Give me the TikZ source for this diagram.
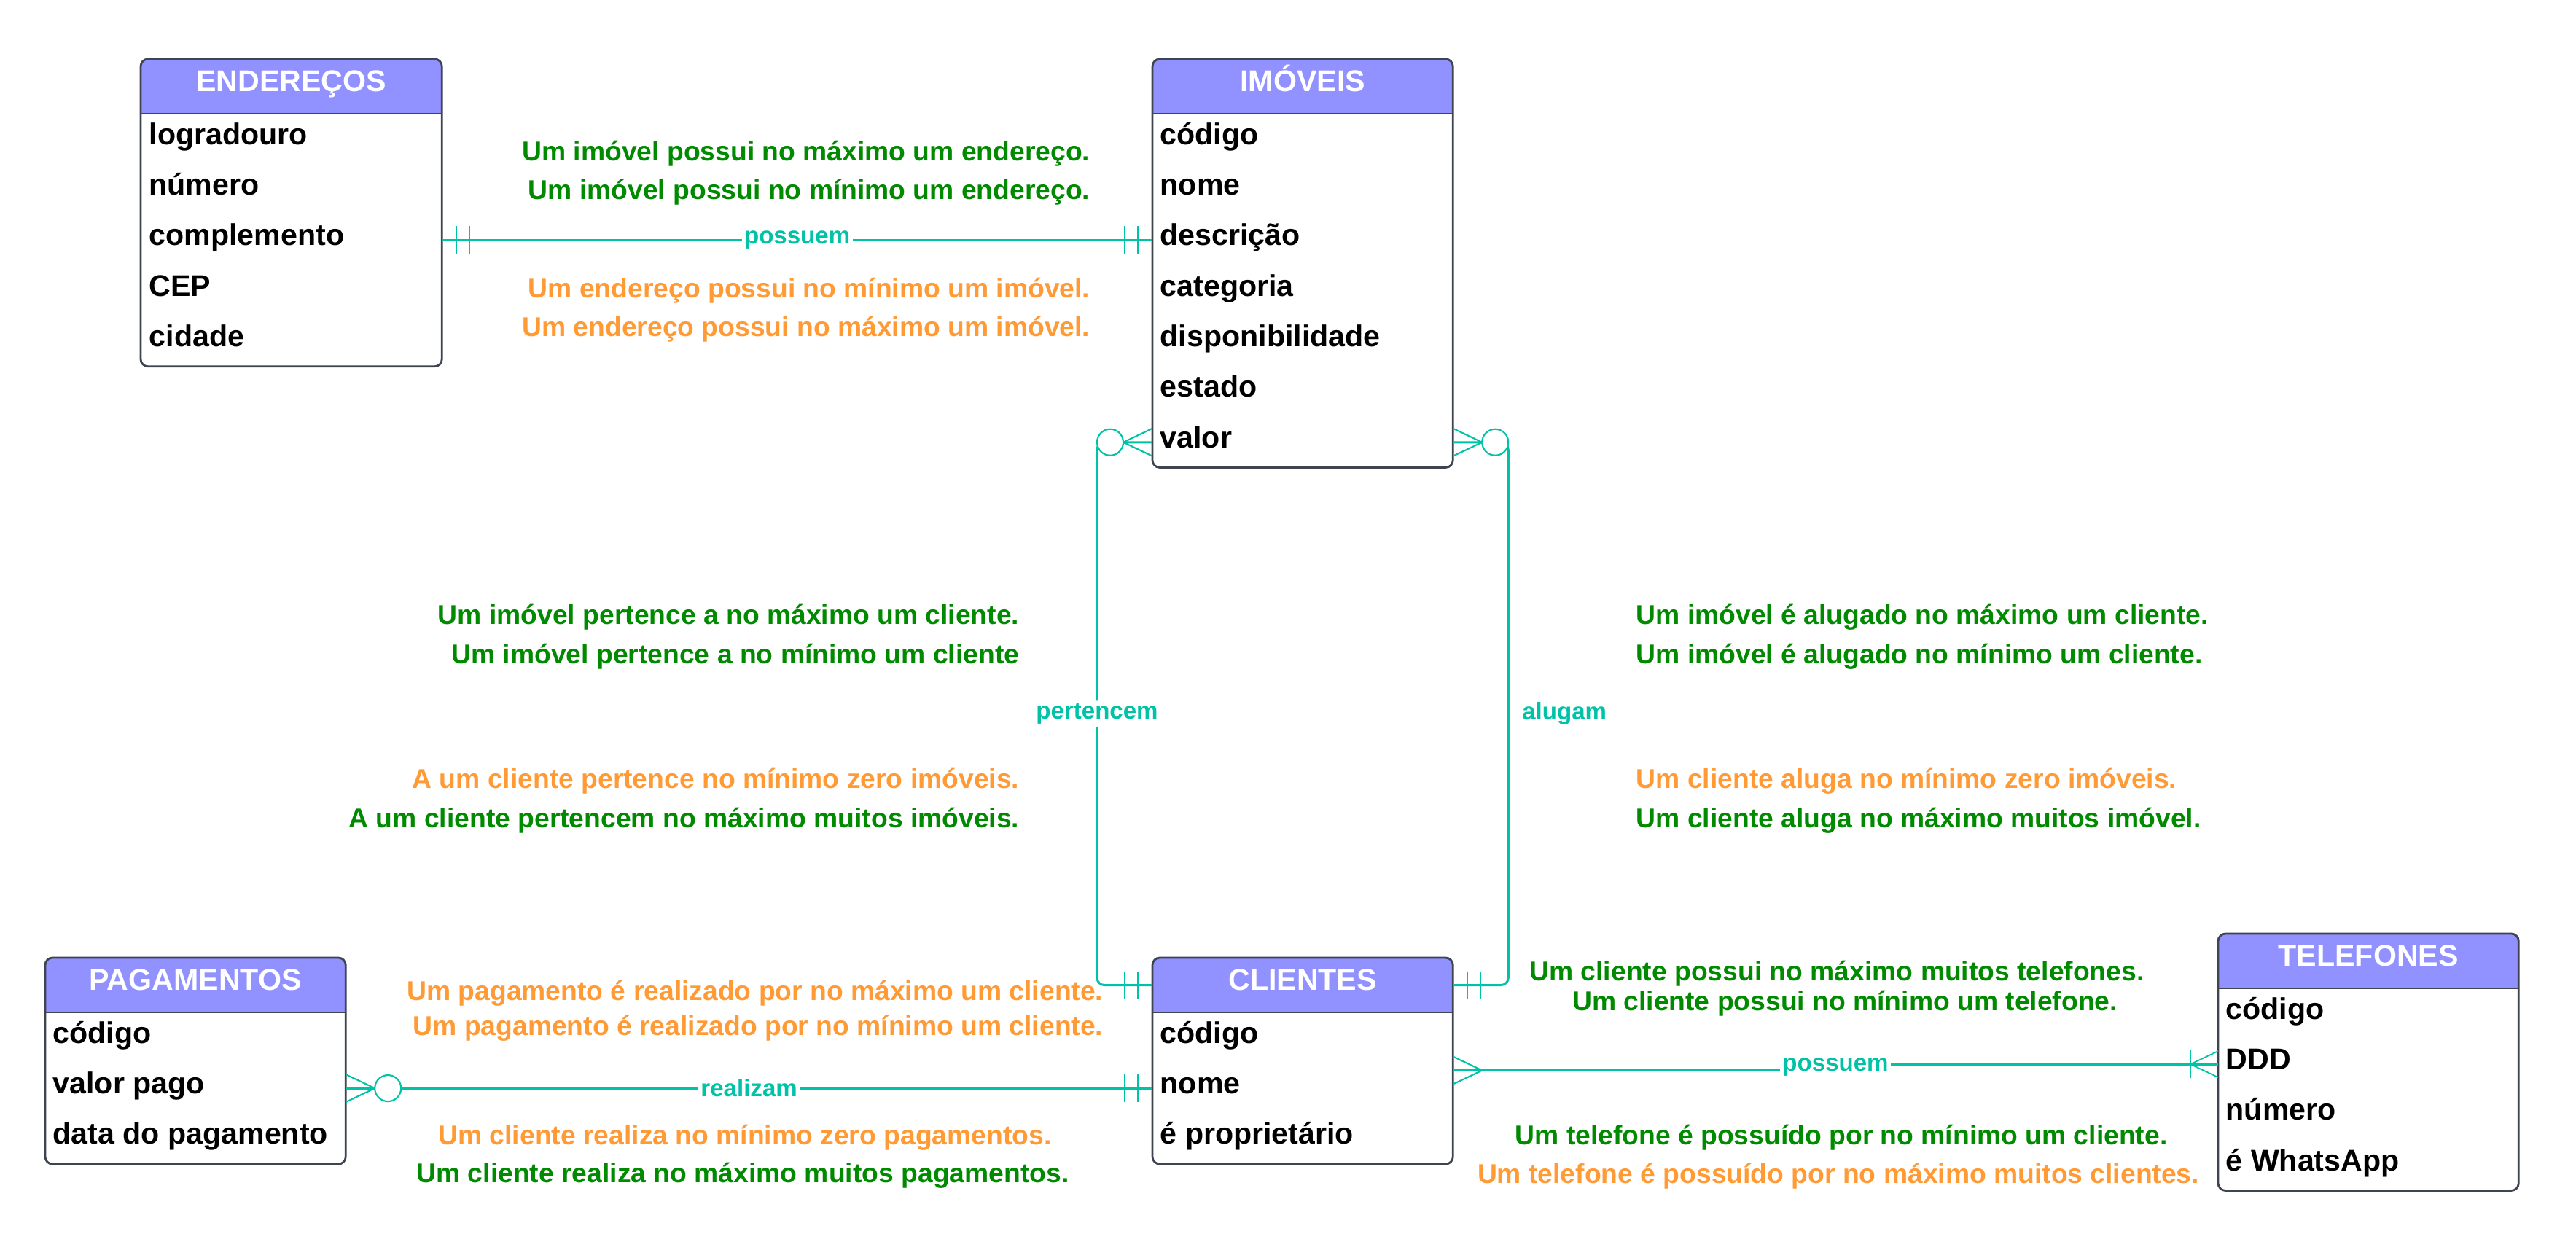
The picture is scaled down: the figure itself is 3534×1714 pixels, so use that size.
\documentclass[tikz,border=0pt]{standalone}
\usepackage{fontspec}
\setmainfont{Liberation Sans}
\usepackage{tikz}
\definecolor{rhead}{HTML}{9191FF}
\definecolor{rborder}{HTML}{3F4451}
\definecolor{rteal}{HTML}{00C2A6}
\definecolor{rgreen}{HTML}{008A00}
\definecolor{rorange}{HTML}{FF9A35}
\newcommand{\fieldfont}{\fontsize{11.7pt}{14pt}\selectfont\bfseries}
\newcommand{\rulefont}{\fontsize{10.6pt}{13pt}\selectfont\bfseries}
\newcommand{\relfont}{\fontsize{9.4pt}{11pt}\selectfont\bfseries}

% crow's foot ends, drawn with the entity border at the origin and the line going to +x
\tikzset{
  exactlyone/.pic={\draw[rteal,line width=0.6pt] (20,-19) -- (20,19) (38,-19) -- (38,19);},
  zeromany/.pic={\draw[rteal,line width=0.6pt] (0,-19) -- (40,0) -- (0,19);
                 \draw[rteal,line width=0.6pt,fill=white] (58,0) circle[radius=0.18cm];},
  many/.pic={\draw[rteal,line width=0.6pt] (0,-19) -- (40,0) -- (0,19);},
  onemany/.pic={\draw[rteal,line width=0.5pt] (0,-18) -- (38,0) -- (0,18) (38,-19) -- (38,19);}
}

\begin{document}
\begin{tikzpicture}[x=0.01cm,y=-0.01cm,
  entity/.style={draw=rborder,line width=0.8pt,fill=white,rounded corners=0.1cm,
    minimum width=4.12cm,inner sep=0pt,outer sep=0pt,anchor=north west,
    path picture={
      \fill[rhead,sharp corners] (path picture bounding box.north west)
        rectangle ([yshift=-0.75cm]path picture bounding box.north east);
      \draw[rborder,line width=0.8pt,sharp corners] ([yshift=-0.75cm]path picture bounding box.north west)
        -- ([yshift=-0.75cm]path picture bounding box.north east);}},
  etitle/.style={font=\fieldfont,text=white,inner sep=0pt,text height=0.3cm,text depth=0.17cm},
  field/.style={font=\fieldfont,anchor=west,inner sep=0pt,text height=0.32cm,text depth=0.17cm},
  rel/.style={draw=rteal,line width=0.85pt},
  rlabel/.style={font=\relfont,text=rteal,fill=white,inner sep=1pt},
  rule/.style={font=\rulefont,inner sep=0pt,text height=0.265cm,text depth=0pt},
  rgr/.style={rule,text=rgreen},
  ror/.style={rule,text=rorange}]

  \fill[white] (0,0) rectangle (3534,1714);
  \useasboundingbox (0,0) rectangle (3534,1714);

  % entities
  \node[entity,minimum width=4.13cm,minimum height=4.215cm] (enderecos) at (193,81) {};
  \node[etitle] (enderecos-t) at ([yshift=-0.375cm]enderecos.north) {ENDEREÇOS};
  \foreach \f [count=\i] in {logradouro,número,complemento,CEP,cidade}
    \node[field] (enderecos-\i) at ([xshift=0.11cm,yshift={-0.75cm-0.693cm*(\i-0.5)}]enderecos.north west) {\f};

  \node[entity,minimum height=5.601cm] (imoveis) at (1581,81) {};
  \node[etitle] (imoveis-t) at ([yshift=-0.375cm]imoveis.north) {IMÓVEIS};
  \foreach \f [count=\i] in {código,nome,descrição,categoria,disponibilidade,estado,valor}
    \node[field] (imoveis-\i) at ([xshift=0.1cm,yshift={-0.75cm-0.693cm*(\i-0.5)}]imoveis.north west) {\f};

  \node[entity,minimum height=2.829cm] (clientes) at (1581,1314) {};
  \node[etitle] (clientes-t) at ([yshift=-0.375cm]clientes.north) {CLIENTES};
  \foreach \f [count=\i] in {código,nome,é proprietário}
    \node[field] (clientes-\i) at ([xshift=0.1cm,yshift={-0.75cm-0.693cm*(\i-0.5)}]clientes.north west) {\f};

  \node[entity,minimum height=2.829cm] (pagamentos) at (62,1314) {};
  \node[etitle] (pagamentos-t) at ([yshift=-0.375cm]pagamentos.north) {PAGAMENTOS};
  \foreach \f [count=\i] in {código,valor pago,data do pagamento}
    \node[field] (pagamentos-\i) at ([xshift=0.1cm,yshift={-0.75cm-0.693cm*(\i-0.5)}]pagamentos.north west) {\f};

  \node[entity,minimum height=3.522cm] (telefones) at (3043,1281) {};
  \node[etitle] (telefones-t) at ([yshift=-0.375cm]telefones.north) {TELEFONES};
  \foreach \f [count=\i] in {código,DDD,número,é WhatsApp}
    \node[field] (telefones-\i) at ([xshift=0.1cm,yshift={-0.75cm-0.693cm*(\i-0.5)}]telefones.north west) {\f};

  % relationships
  \draw[rel] (enderecos-3 -| enderecos.east) -- node[rlabel] (possuem1) {possuem} (imoveis-3 -| imoveis.west);
  \draw[rel,rounded corners=0.1cm] (imoveis-7 -| imoveis.west) -- ++(-76,0)
    |- node[rlabel,pos=0.25] (pertencem) {pertencem} (clientes-t -| clientes.west);
  \draw[rel,rounded corners=0.1cm] (imoveis-7 -| imoveis.east) -- ++(76,0)
    |- node[rlabel,pos=0.25,anchor=west,xshift=0.14cm,fill=none] (alugam) {alugam} (clientes-t -| clientes.east);
  \draw[rel] (pagamentos-2 -| pagamentos.east) -- node[rlabel] (realizam) {realizam} (clientes-2 -| clientes.west);
  \coordinate (clitel) at ([yshift=-0.13cm]clientes.east);
  \coordinate (teljog) at (2518,1464);
  \draw[rel] (clitel) -| (teljog) |- (telefones-2 -| telefones.west);
  \node[rlabel] (possuem2) at (teljog) {possuem};

  \pic at (enderecos-3 -| enderecos.east) {exactlyone};
  \pic[rotate=180] at (imoveis-3 -| imoveis.west) {exactlyone};
  \pic[rotate=180] at (imoveis-7 -| imoveis.west) {zeromany};
  \pic at (imoveis-7 -| imoveis.east) {zeromany};
  \pic[rotate=180] at (clientes-t -| clientes.west) {exactlyone};
  \pic at (clientes-t -| clientes.east) {exactlyone};
  \pic at (pagamentos-2 -| pagamentos.east) {zeromany};
  \pic[rotate=180] at (clientes-2 -| clientes.west) {exactlyone};
  \pic at (clitel) {many};
  \pic[rotate=180] at (telefones-2 -| telefones.west) {onemany};

  % cardinality sentences
  \node[rgr,anchor=east] (imend-max) at (1496,207) {Um imóvel possui no máximo um endereço.};
  \node[rgr,anchor=east] (imend-min) at (1496,260) {Um imóvel possui no mínimo um endereço.};
  \node[ror,anchor=east] (endim-min) at (1496,395) {Um endereço possui no mínimo um imóvel.};
  \node[ror,anchor=east] (endim-max) at (1496,448) {Um endereço possui no máximo um imóvel.};

  \node[rgr,anchor=east] (imcli-max) at (1399,843) {Um imóvel pertence a no máximo um cliente.};
  \node[rgr,anchor=east] (imcli-min) at (1399,897) {Um imóvel pertence a no mínimo um cliente};
  \node[ror,anchor=east] (cliim-min) at (1399,1068) {A um cliente pertence no mínimo zero imóveis.};
  \node[rgr,anchor=east] (cliim-max) at (1399,1122) {A um cliente pertencem no máximo muitos imóveis.};

  \node[rgr,anchor=west] (alug-max) at (2244,843) {Um imóvel é alugado no máximo um cliente.};
  \node[rgr,anchor=west] (alug-min) at (2244,897) {Um imóvel é alugado no mínimo um cliente.};
  \node[ror,anchor=west] (aluga-min) at (2244,1068) {Um cliente aluga no mínimo zero imóveis.};
  \node[rgr,anchor=west] (aluga-max) at (2244,1122) {Um cliente aluga no máximo muitos imóvel.};

  \node[ror,anchor=east] (pagcli-max) at (1514,1359) {Um pagamento é realizado por no máximo um cliente.};
  \node[ror,anchor=east] (pagcli-min) at (1514,1407) {Um pagamento é realizado por no mínimo um cliente.};
  \node[ror] (clipag-min) at (1022,1557) {Um cliente realiza no mínimo zero pagamentos.};
  \node[rgr] (clipag-max) at (1019,1609) {Um cliente realiza no máximo muitos pagamentos.};

  \node[rgr] (clitel-max) at (2520,1332) {Um cliente possui no máximo muitos telefones.};
  \node[rgr] (clitel-min) at (2531,1373) {Um cliente possui no mínimo um telefone.};
  \node[rgr] (telcli-min) at (2526,1557) {Um telefone é possuído por no mínimo um cliente.};
  \node[ror] (telcli-max) at (2522,1610) {Um telefone é possuído por no máximo muitos clientes.};
\end{tikzpicture}
\end{document}
